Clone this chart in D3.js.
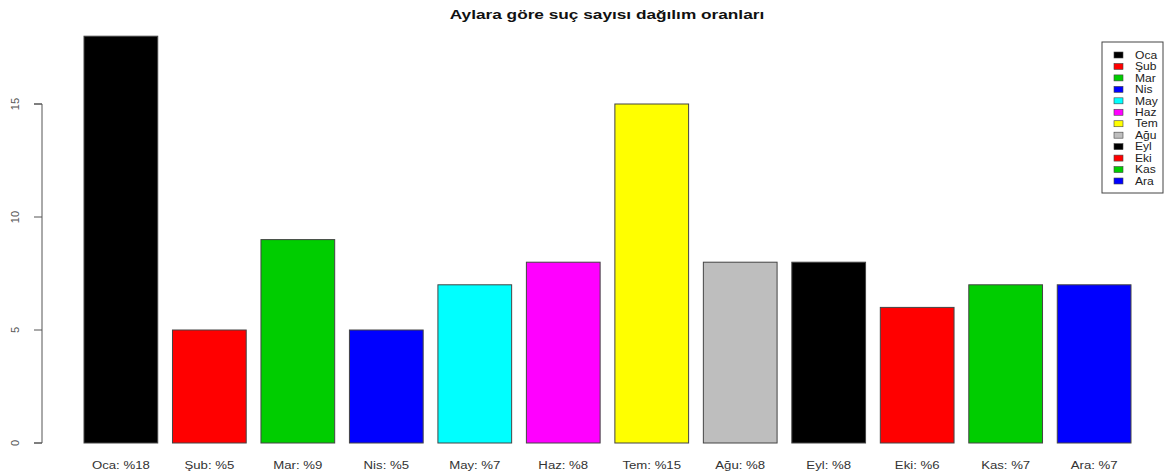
<!DOCTYPE html>
<html><head><meta charset="utf-8">
<script src="https://cdn.jsdelivr.net/npm/d3@7/dist/d3.min.js"></script>
<style>body{margin:0;background:#fff}svg{display:block}text{font-family:"Liberation Sans",Arial,sans-serif}</style>
</head><body><svg id="c" width="1166" height="474"></svg>
<script>
const months = ["Oca","Şub","Mar","Nis","May","Haz","Tem","Ağu","Eyl","Eki","Kas","Ara"];
const counts = [18,5,9,5,7,8,15,8,8,6,7,7];
const labels = ["Oca: %18","Şub: %5","Mar: %9","Nis: %5","May: %7","Haz: %8","Tem: %15","Ağu: %8","Eyl: %8","Eki: %6","Kas: %7","Ara: %7"];
const colors = ["#000000","#FF0000","#00CD00","#0000FF","#00FFFF","#FF00FF","#FFFF00","#BEBEBE","#000000","#FF0000","#00CD00","#0000FF"];
const yTicks = [0,5,10,15];
const title = "Aylara göre suç sayısı dağılım oranları";

const svg = d3.select("#c");
// R barplot units: bar i spans [0.2+1.2i, 1.2+1.2i]
const x = d3.scaleLinear().domain([0.2, 14.4]).range([84, 1131]);
const y = d3.scaleLinear().domain([0, 15]).range([443, 104]);

svg.append("text").attr("transform","translate(607,19) scale(1.38,1)").attr("text-anchor","middle")
  .attr("font-size", 12.5).attr("font-weight","bold").attr("fill","#111").text(title);

svg.selectAll("rect.bar").data(counts).enter().append("rect").attr("class","bar")
  .attr("x", (d,i)=>x(0.2+1.2*i)).attr("width", (d,i)=>x(1.2+1.2*i)-x(0.2+1.2*i))
  .attr("y", d=>y(d)).attr("height", d=>y(0)-y(d))
  .attr("fill", (d,i)=>colors[i]).attr("stroke","#444").attr("stroke-width",1);

svg.selectAll("text.xl").data(labels).enter().append("text").attr("class","xl")
  .attr("transform", (d,i)=>`translate(${x(0.7+1.2*i)},469) scale(1.2,1)`).attr("text-anchor","middle")
  .attr("font-size", 11).attr("fill","#333").text(d=>d);

const yAxis = svg.append("g").attr("transform","translate(42,0)")
  .call(d3.axisLeft(y).tickValues(yTicks).tickSize(8).tickPadding(6).tickFormat(d3.format("d")));
yAxis.select(".domain").attr("stroke","#555").attr("d", `M-8,${y(0)}H0V${y(15)}H-8`);
yAxis.selectAll(".tick line").attr("stroke","#555");
yAxis.selectAll(".tick text").attr("font-size",11).attr("fill","#555")
  .attr("font-family","Liberation Sans, Arial, sans-serif")
  .attr("text-anchor","middle").attr("transform","rotate(-90)")
  .attr("x", d=>-y(d)).attr("y", -27).attr("dy","0.35em");
yAxis.selectAll(".tick").attr("transform", null);
yAxis.selectAll(".tick line").attr("y1", d=>y(d)).attr("y2", d=>y(d));

// legend
const lg = svg.append("g");
lg.append("rect").attr("x",1102).attr("y",42).attr("width",61).attr("height",151)
  .attr("fill","#fff").attr("stroke","#444").attr("stroke-width",1);
const ly = d3.scaleLinear().domain([0,11]).range([55,181]);
lg.selectAll("rect.sw").data(months).enter().append("rect").attr("class","sw")
  .attr("x",1114).attr("y",(d,i)=>ly(i)-3).attr("width",9).attr("height",6)
  .attr("fill",(d,i)=>colors[i]).attr("stroke","#444").attr("stroke-width",0.6);
lg.selectAll("text").data(months).enter().append("text")
  .attr("transform",(d,i)=>`translate(1135,${ly(i)}) scale(1.15,1)`).attr("dy","0.35em")
  .attr("font-size",10.5).attr("fill","#222").text(d=>d);
</script></body></html>
